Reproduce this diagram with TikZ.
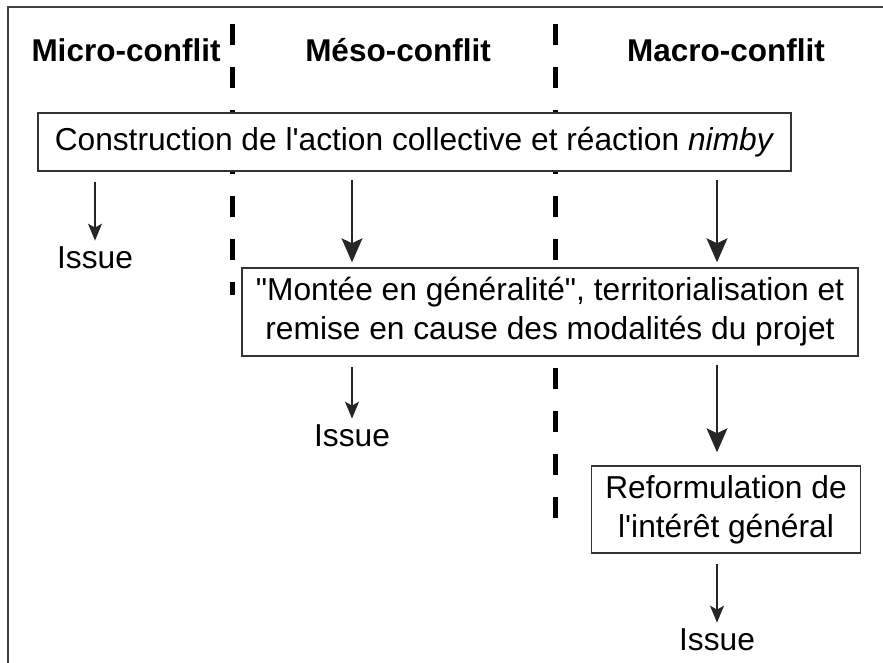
\documentclass[tikz,border=0pt]{standalone}
\usepackage{fontspec}
\setmainfont{Liberation Sans}[Ligatures=TeXOff]
\usetikzlibrary{arrows.meta,positioning}

\tikzset{
  boite/.style={draw=black!80, line width=1.5pt, fill=white, align=center, inner xsep=14pt, inner ysep=6pt},
  titre/.style={font=\fontsize{31.5}{39}\selectfont\bfseries, anchor=base},
  issue/.style={anchor=base},
  fleche/.style={-{Stealth[length=17pt,width=14pt,inset=4pt]}, line width=1.5pt, draw=black!85, shorten <=10pt, shorten >=2pt},
  grandefleche/.style={-{Stealth[length=24pt,width=21pt,inset=5pt]}, line width=1.5pt, draw=black!85, shorten <=8pt},
  frontiere/.style={line width=5pt, dash pattern=on 21pt off 22pt},
}

\begin{document}
\begin{tikzpicture}[x=1pt, y=-1pt, font=\fontsize{31.7}{39}\selectfont]
  \useasboundingbox (0,0) rectangle (883,663);
  % cadre
  \draw[line width=2pt, black!75] (8,663) -- (8,7) -- (883,7);

  % frontieres entre les niveaux
  \draw[frontiere] (232,24) -- (232,295);
  \draw[frontiere] (555,24) -- (555,518);

  % titres
  \node[titre] (micro) at (126,62) {Micro-conflit};
  \node[titre] (meso) at (398,62) {Méso-conflit};
  \node[titre] (macro) at (726,62) {Macro-conflit};

  % boites
  \node[boite, minimum width=753pt, minimum height=58pt] (action) at (414.5,142)
    {\raisebox{-3pt}{Construction de l'action collective et réaction \textit{nimby}}};
  \node[boite, minimum width=616pt, minimum height=88pt] (montee) at (550,312)
    {"Montée en généralité", territorialisation et\\remise en cause des modalités du projet};
  \node[boite, minimum width=256pt, minimum height=87pt] (reform) at (726,509.5)
    {Reformulation de\\l'intérêt général};

  % issues
  \node[issue] (issue1) at (95,268) {Issue};
  \node[issue] (issue2) at (352,446) {Issue};
  \node[issue] (issue3) at (717,650) {Issue};

  % fleches
  \draw[fleche] (action.south -| issue1) -- (issue1);
  \draw[grandefleche, shorten >=5pt] (action.south -| issue2) -- (montee.north -| issue2);
  \draw[grandefleche, shorten >=5pt] (action.south -| issue3) -- (montee.north -| issue3);
  \draw[fleche] (montee.south -| issue2) -- (issue2);
  \draw[grandefleche, shorten >=13pt] (montee.south -| issue3) -- (reform.north -| issue3);
  \draw[fleche] (reform.south -| issue3) -- (issue3);
\end{tikzpicture}
\end{document}
